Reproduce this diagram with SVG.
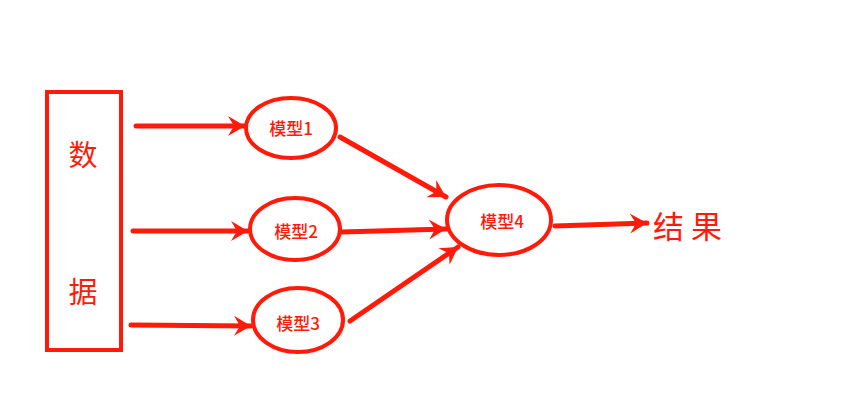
<svg xmlns="http://www.w3.org/2000/svg" width="841" height="409" viewBox="0 0 841 409">
<style>
.n{fill:#fff;stroke:#ff1a0a;stroke-width:4}
.c{stroke:#ff1a0a;stroke-width:5;fill:none;stroke-linecap:round;marker-end:url(#ah)}
.t{fill:#ff1a0a;font-family:"Noto Sans CJK SC",sans-serif;text-anchor:middle;dominant-baseline:central}
.s{font-size:17px;font-weight:500}
.b{font-size:29px}
</style>
<defs>
<marker id="ah" markerUnits="userSpaceOnUse" viewBox="-18 -11 20 22" refX="0" refY="0" markerWidth="20" markerHeight="22" orient="auto">
<path d="M0,0 L-17,-10 L-11,0 L-17,10 Z" fill="#ff1a0a"/>
</marker>
</defs>
<g id="connectors">
<line class="c" x1="136" y1="126" x2="245" y2="126"/>
<line class="c" x1="133" y1="231" x2="248" y2="231"/>
<line class="c" x1="131" y1="325" x2="251" y2="326"/>
<line class="c" x1="340" y1="137" x2="446" y2="197"/>
<line class="c" x1="342" y1="232" x2="446" y2="229"/>
<line class="c" x1="350" y1="321" x2="458" y2="247"/>
<line class="c" x1="555" y1="226" x2="647" y2="223"/>
</g>
<g id="data">
<rect class="n" x="47" y="92" width="74" height="258"/>
<text class="t b" x="83" y="153">数</text>
<text class="t b" x="83" y="290">据</text>
</g>
<g id="m1"><ellipse class="n" cx="291" cy="128" rx="45" ry="30"/><text class="t s" x="291" y="127">模型1</text></g>
<g id="m2"><ellipse class="n" cx="295" cy="229" rx="45" ry="31"/><text class="t s" x="296" y="230">模型2</text></g>
<g id="m3"><ellipse class="n" cx="298" cy="320" rx="45" ry="32"/><text class="t s" x="298" y="322">模型3</text></g>
<g id="m4"><ellipse class="n" cx="499" cy="220" rx="52" ry="35"/><text class="t s" x="502" y="220">模型4</text></g>
<g id="result"><text class="t" x="653" y="224" style="font-size:31px;letter-spacing:7px;text-anchor:start">结果</text></g>
</svg>
